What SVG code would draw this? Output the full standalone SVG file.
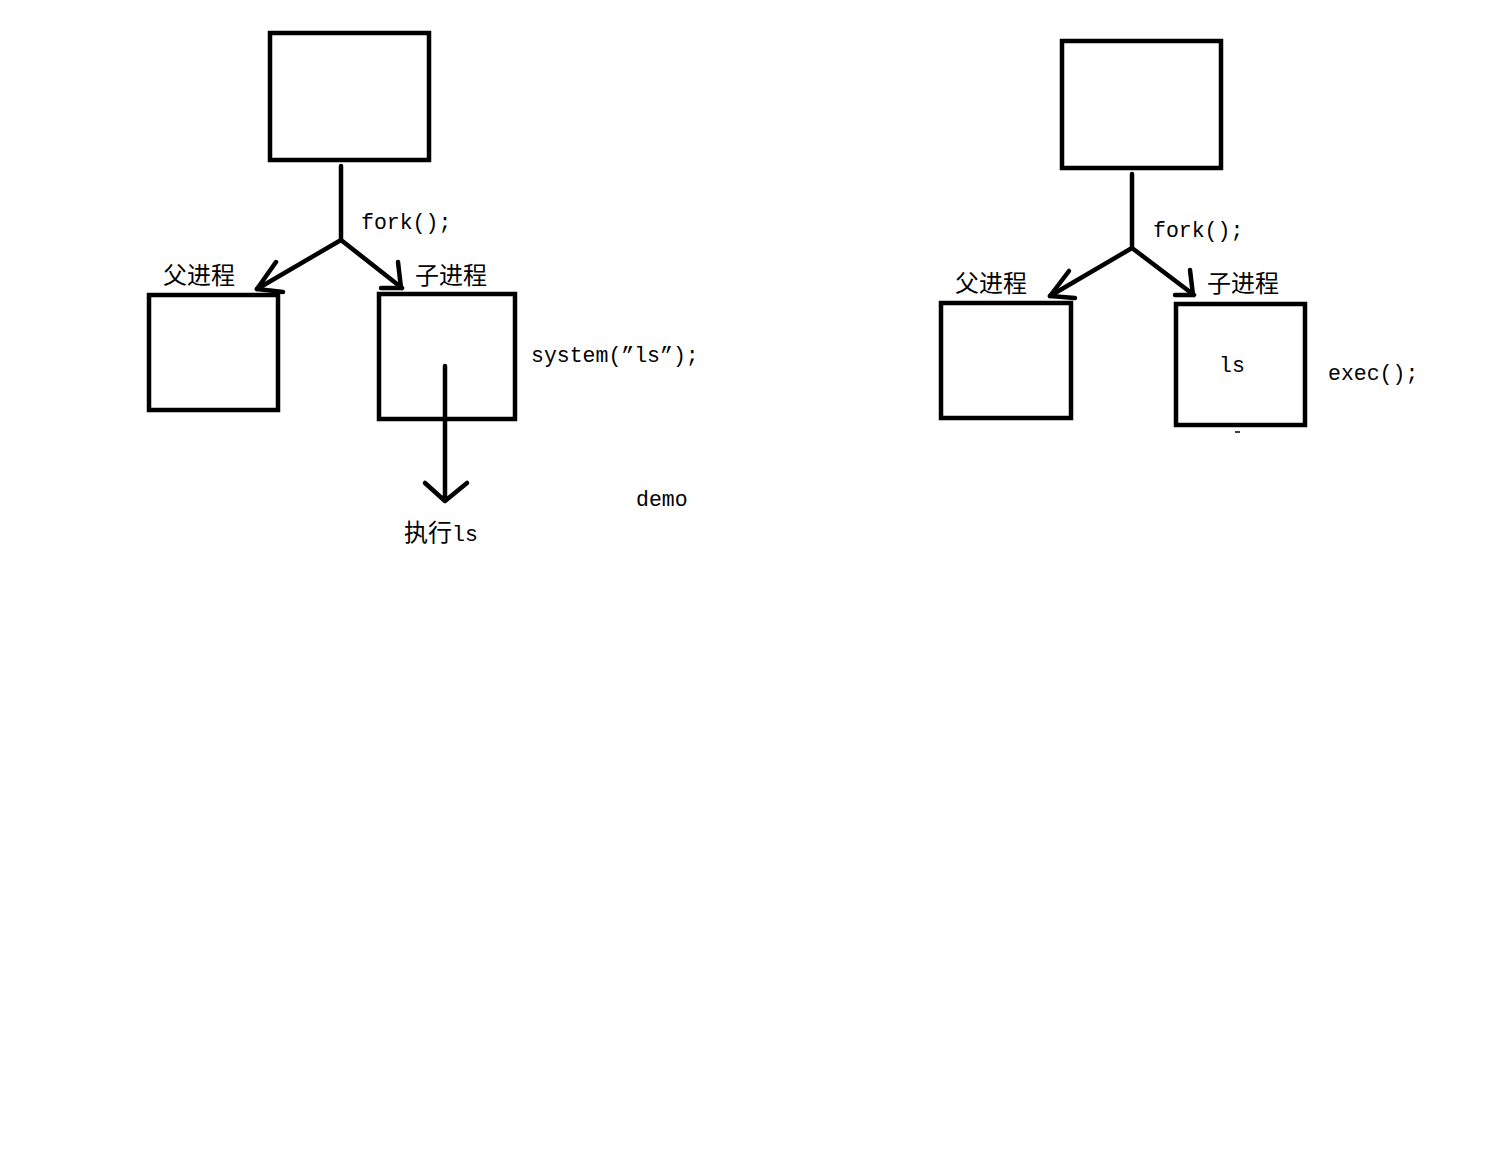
<svg xmlns="http://www.w3.org/2000/svg" width="1491" height="1164" viewBox="0 0 1491 1164">
<style>
.box{fill:none;stroke:#000;stroke-width:4.5}
.ln{fill:none;stroke:#000;stroke-width:4.5;stroke-linecap:round;stroke-linejoin:round}
.t{font-family:"Liberation Mono","Noto Sans CJK SC",monospace;font-size:21.5px;fill:#000}
.c{font-family:"Noto Sans CJK SC",sans-serif;font-size:24px;fill:#000}
</style>
<rect width="1491" height="1164" fill="#fff"/>
<!-- left diagram -->
<g id="L_top"><rect class="box" x="270" y="33" width="159" height="127"/></g>
<g id="L_parent"><rect class="box" x="149" y="295" width="129" height="115"/><text class="c" x="163" y="284">父进程</text></g>
<g id="L_child"><rect class="box" x="379" y="294" width="136" height="125"/><text class="c" x="415" y="284">子进程</text></g>
<g id="L_labels">
<text class="t" x="361" y="229">fork();</text>
<text class="t" x="531" y="362">system(”ls”);</text>
<text class="t" x="636" y="506">demo</text>
<text class="t" x="404" y="541"><tspan class="c">执行</tspan>ls</text>
</g>
<!-- right diagram -->
<g id="R_top"><rect class="box" x="1062" y="41" width="159" height="127"/></g>
<g id="R_parent"><rect class="box" x="941" y="303" width="130" height="115"/><text class="c" x="955" y="292">父进程</text></g>
<g id="R_child"><rect class="box" x="1176" y="304" width="129" height="121"/><text class="c" x="1207" y="292">子进程</text><text class="t" x="1219" y="372">ls</text></g>
<g id="R_labels">
<text class="t" x="1153" y="237">fork();</text>
<text class="t" x="1328" y="380">exec();</text>
</g>
<g id="connectors">
<path class="ln" d="M341,166 V240 L257,289 M341,240 L402,288"/>
<path class="ln" d="M276,262 L257,289 L283,292"/>
<path class="ln" d="M398,262 L401,288 L381,288"/>
<path class="ln" d="M445,366 V501 M425,483 L445,501 L467,483"/>
<path class="ln" d="M1132,174 V248 L1050,296 M1132,248 L1194,295"/>
<path class="ln" d="M1069,271 L1050,296 L1075,298"/>
<path class="ln" d="M1190,270 L1193,295 L1175,295"/>
<line x1="1235" y1="432" x2="1240" y2="432" stroke="#000" stroke-width="1.5"/>
</g>
</svg>
